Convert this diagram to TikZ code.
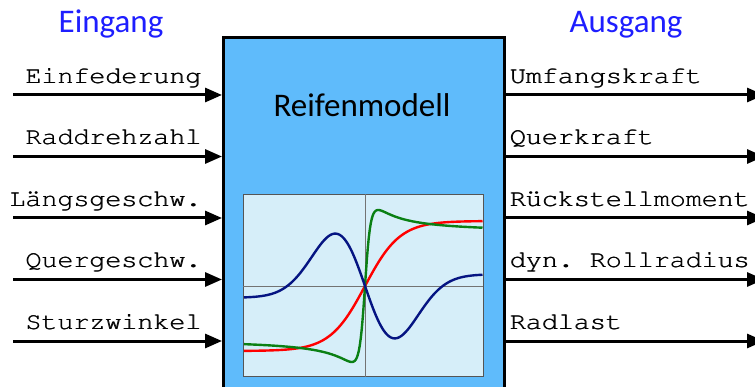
\documentclass[tikz,border=0pt]{standalone}
\usepackage[T1,TU]{fontenc}
\usepackage{fontspec}
\usepackage{graphicx}
\usepackage{tikz}
\usetikzlibrary{arrows.meta}
\newfontfamily\calibri{Carlito}
\newcommand{\mono}{\fontencoding{T1}\fontfamily{pcr}\fontsize{24}{28}\selectfont\frenchspacing}
\newcommand{\sig}[1]{\scalebox{1.11}[1]{\rlap{#1}\kern0.6pt#1}}
\definecolor{modelblue}{RGB}{95,187,251}
\definecolor{plotbg}{RGB}{214,238,249}
\definecolor{plotframe}{RGB}{85,85,85}
\definecolor{axisgray}{RGB}{115,115,115}
\definecolor{headblue}{RGB}{30,30,255}
\definecolor{curveblue}{RGB}{5,20,130}
\definecolor{curvegreen}{RGB}{10,128,20}
\definecolor{curvered}{RGB}{255,0,0}
\begin{document}
\begin{tikzpicture}[x=1pt,y=-1pt,
    signal/.style={line width=3pt,-{Triangle[length=17pt,width=14pt]}},
    inlabel/.style={font=\mono,inner sep=0pt,anchor=base east},
    outlabel/.style={font=\mono,inner sep=0pt,anchor=base west},
    heading/.style={font=\calibri\fontsize{33}{40}\selectfont,text=headblue,inner sep=0pt,anchor=base},
    curve/.style={line width=2.4pt,line join=round}]
  \path[use as bounding box,clip] (0,0) rectangle (755,387);
  % block and headings
  \node[draw,line width=3pt,fill=modelblue,minimum width=281pt,minimum height=362pt,inner sep=0pt] (model) at (364,219) {};
  \node[heading,text=black] (title) at (362,117) {Reifenmodell};
  \node[heading] (ein) at (111,33) {Eingang};
  \node[heading] (aus) at (626,33) {Ausgang};
  % characteristic curves
  \node[draw=plotframe,line width=0.8pt,fill=plotbg,minimum width=239.5pt,minimum height=182pt,inner sep=0pt] (plot) at (363.25,285.5) {};
  \coordinate (o) at (365,286);
  \draw[axisgray,line width=0.8pt] (o |- plot.north) -- (o |- plot.south);
  \draw[axisgray,line width=0.8pt] (o -| plot.west) -- (o -| plot.east);
  \draw[curve,curvered] plot[domain=244:482.5,samples=120] (\x,{286-65*tanh((\x-365)/35)});
  \draw[curve,curvegreen] plot[domain=244:482.5,samples=240] (\x,{286-76*sin(1.506*atan(0.13*(\x-365)))});
  \draw[curve,curveblue] plot[domain=244:482.5,samples=160] (\x,{286+58*((\x-365)/31)*exp(0.5*(1-((\x-365)/31)^2))-12*tanh((\x-365)/60)});
  % signals
  \coordinate (in1) at (13,95);
  \coordinate (in2) at (13,156.5);
  \coordinate (in3) at (13,218);
  \coordinate (in4) at (13,279.5);
  \coordinate (in5) at (13,341);
  \coordinate (out1) at (764,95);
  \coordinate (out2) at (764,156.5);
  \coordinate (out3) at (764,218);
  \coordinate (out4) at (764,279.5);
  \coordinate (out5) at (764,341);
  \path[signal]
    (in1) edge (in1 -| model.west)
    (in2) edge (in2 -| model.west)
    (in3) edge (in3 -| model.west)
    (in4) edge (in4 -| model.west)
    (in5) edge (in5 -| model.west)
    (out1 -| model.east) edge (out1)
    (out2 -| model.east) edge (out2)
    (out3 -| model.east) edge (out3)
    (out4 -| model.east) edge (out4)
    (out5 -| model.east) edge (out5);
  \node[inlabel] (e1) at (202,83.5) {\sig{Einfederung}};
  \node[inlabel] (e2) at (202,145) {\sig{Raddrehzahl}};
  \node[inlabel] (e3) at (202,206.5) {\sig{L\"angsgeschw.}};
  \node[inlabel] (e4) at (202,268) {\sig{Quergeschw.}};
  \node[inlabel] (e5) at (202,329.5) {\sig{Sturzwinkel}};
  \node[outlabel] (a1) at (509.5,83.5) {\sig{Umfangskraft}};
  \node[outlabel] (a2) at (509.5,145) {\sig{Querkraft}};
  \node[outlabel] (a3) at (509.5,206.5) {\sig{R\"uckstellmoment}};
  \node[outlabel] (a4) at (509.5,268) {\sig{dyn. Rollradius}};
  \node[outlabel] (a5) at (509.5,329.5) {\sig{Radlast}};
\end{tikzpicture}
\end{document}
